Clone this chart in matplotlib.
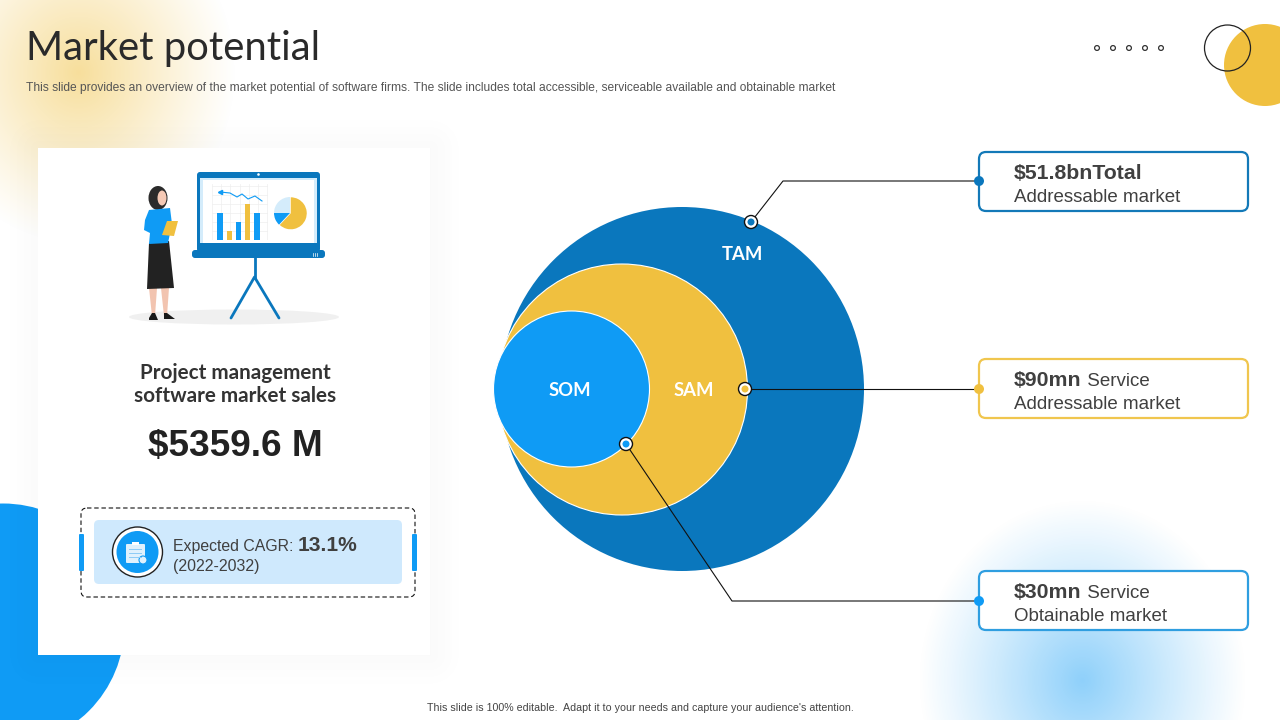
import numpy as np
import matplotlib
matplotlib.use('Agg')
import matplotlib.pyplot as plt
from matplotlib.patches import Circle, Ellipse, FancyBboxPatch, Polygon, Rectangle

W, H = 1280, 720

title = 'Market potential'
subtitle = ('This slide provides an overview of the market potential of software firms. '
            'The slide includes total accessible, serviceable available and obtainable market')
footer = "This slide is 100% editable.  Adapt it to your needs and capture your audience's attention."

circle_labels = ['TAM', 'SAM', 'SOM']
callout_bold = ['$51.8bnTotal', '$90mn', '$30mn']
callout_rest = ['', ' Service', ' Service']
callout_line2 = ['Addressable market', 'Addressable market', 'Obtainable market']

card_title = ['Project management', 'software market sales']
card_value = '$5359.6 M'
cagr_label = 'Expected CAGR: '
cagr_value = '13.1%'
cagr_years = '(2022-2032)'

# the little chart on the presentation board
board_bars = [27, 9, 18, 36, 27]
board_trend_x = [0, 1.08, 1.84, 2.38, 3.03, 3.78, 4.54]
board_trend = [48, 47, 43, 46, 41, 44, 39]
board_pie = [62, 13, 25]

DARK_BLUE = '#0a77bd'
BLUE = '#0f9bf5'
YELLOW = '#f0c03f'
TEXT = '#404040'
SANS = 'Liberation Sans'
GEO = 'Lato'


def px(size):
    return size * 72 / 100


def glow(ax, cx, cy, rx, ry, colour, top, power=1.2, z=0):
    yy, xx = np.mgrid[0:H, 0:W]
    d = np.sqrt(((xx - cx) / rx) ** 2 + ((yy - cy) / ry) ** 2)
    alpha = top * np.clip(1 - d, 0, 1) ** power
    img = np.zeros((H, W, 4))
    img[..., :3] = matplotlib.colors.to_rgb(colour)
    img[..., 3] = alpha
    ax.imshow(img, extent=(0, W, H, 0), aspect='auto', zorder=z, interpolation='bilinear')


def round_box(ax, x0, y0, x1, y1, r, **kw):
    p = FancyBboxPatch((x0, y0), x1 - x0, y1 - y0,
                       boxstyle='round,pad=0,rounding_size={}'.format(r), **kw)
    ax.add_patch(p)
    return p


def run_text(ax, x, y, parts):
    # several styles on one line, each piece starts where the last one ended
    renderer = ax.figure.canvas.get_renderer()
    for s, size, weight in parts:
        if not s:
            continue
        t = ax.text(x, y, s.replace('$', r'\$'), fontsize=px(size), fontweight=weight, family=SANS,
                    color=TEXT, va='baseline', ha='left', zorder=12)
        x = ax.transData.inverted().transform(t.get_window_extent(renderer).get_points())[1][0]


def marker(ax, x, y, colour):
    ax.add_patch(Circle((x, y), 6.5, fc='white', ec='#111111', lw=1, zorder=11))
    ax.add_patch(Circle((x, y), 3.5, fc=colour, ec='none', zorder=12))


fig = plt.figure(figsize=(W / 100, H / 100), dpi=100, facecolor='white')
ax = fig.add_axes([0, 0, 1, 1])

# background
glow(ax, 78, 72, 158, 172, '#f0c03f', 0.52, 1.1)
glow(ax, 1082, 680, 165, 182, '#0f9bf5', 0.47, 1.1)
ax.add_patch(Circle((3, 625), 121.5, fc=BLUE, ec='none', zorder=1))

# soft shadow of the card
yy, xx = np.mgrid[0:H, 0:W]
dx = np.maximum(np.maximum(38 - xx, xx - 430), 0)
dy = np.maximum(np.maximum(148 - yy, yy - 655), 0)
shadow = np.zeros((H, W, 4))
shadow[..., 3] = 0.02 * np.clip(1 - np.hypot(dx, dy) / 35, 0, 1)
ax.imshow(shadow, extent=(0, W, H, 0), aspect='auto', zorder=2)
ax.add_patch(Rectangle((38, 148), 392, 507, fc='white', ec='none', zorder=3))

ax.set_xlim(0, W)
ax.set_ylim(H, 0)
ax.axis('off')

# header
ax.text(26, 60, title, fontsize=px(40), family=GEO, color='#2a2a2a', zorder=12)
ax.text(26, 91, subtitle, fontsize=px(12.03), family=SANS, color='#555555', zorder=12)
ax.text(640, 711, footer, fontsize=px(10.63), family=SANS, color='#444444', ha='center', zorder=12)

# top right decoration
ax.add_patch(Circle((1265, 65), 41, fc=YELLOW, ec='none', zorder=4))
ax.add_patch(Circle((1227.5, 48), 23, fc='none', ec='#222222', lw=0.9, zorder=5))
for x in [1097, 1113, 1129, 1145, 1161]:
    ax.add_patch(Circle((x, 48), 2.4, fc='white', ec='#333333', lw=0.9, zorder=5))

# presenter illustration
ax.add_patch(Ellipse((234, 317), 210, 15, fc='#f0f0f0', ec='none', zorder=4))
ax.plot([254.5, 254.5], [258, 277], color=DARK_BLUE, lw=2, zorder=5)
ax.plot([231, 254.5, 279], [318, 277, 318], color=DARK_BLUE, lw=2, zorder=5, solid_capstyle='round')
round_box(ax, 197, 172, 320, 252, 3, fc=DARK_BLUE, ec='none', zorder=5)
ax.add_patch(Circle((258.5, 174.5), 1.3, fc='white', ec='none', zorder=6))
ax.add_patch(Rectangle((200, 178), 117, 65, fc='#d4ecfb', ec='none', zorder=6))
ax.add_patch(Rectangle((203, 180), 111, 63, fc='white', ec='none', zorder=6))
round_box(ax, 192, 250, 325, 258, 3, fc=DARK_BLUE, ec='none', zorder=6)
ax.plot([313, 313], [253, 256], color='white', lw=0.5, zorder=7)
ax.plot([315, 315], [253, 256], color='white', lw=0.5, zorder=7)
ax.plot([317, 317], [253, 256], color='white', lw=0.5, zorder=7)

ax.add_patch(Polygon([[149, 288], [157, 288], [155, 316], [152, 316]], fc='#f2c4b0', zorder=5))
ax.add_patch(Polygon([[161, 288], [169, 288], [167, 316], [164, 316]], fc='#f2c4b0', zorder=5))
ax.add_patch(Polygon([[152, 313], [155, 313], [158, 320], [149, 320], [149, 318]], fc='#1a1a1a', zorder=6))
ax.add_patch(Polygon([[164, 313], [167, 313], [175, 319], [164, 319]], fc='#1a1a1a', zorder=6))
ax.add_patch(Polygon([[149, 243], [169, 241], [174, 288], [147, 289]], fc='#222222', zorder=6))
ax.add_patch(Polygon([[149, 210], [170, 208], [172, 224], [168, 243], [149, 244], [150, 233], [144, 230], [145, 220]],
                     fc=BLUE, zorder=7))
ax.add_patch(Ellipse((158, 198), 19, 24, fc='#2b2b2b', ec='none', zorder=6))
ax.add_patch(Ellipse((162, 198), 9, 15, fc='#f5c9b5', ec='none', zorder=7))
ax.add_patch(Polygon([[167, 221], [178, 221], [174, 236], [162, 235]], fc=YELLOW, zorder=8))

# CAGR box
round_box(ax, 81, 508, 415, 597, 6, fc='white', ec='#111111', lw=0.8, ls=(0, (4, 2.5)), zorder=4)
round_box(ax, 94, 520, 402, 584, 5, fc='#cfe9fd', ec='none', zorder=5)
round_box(ax, 79, 534, 84, 571, 1, fc=BLUE, ec='none', zorder=6)
round_box(ax, 412, 534, 417, 571, 1, fc=BLUE, ec='none', zorder=6)
ax.add_patch(Circle((137.5, 552), 25, fc='white', ec='#222222', lw=1, zorder=6))
ax.add_patch(Circle((137.5, 552), 21, fc=BLUE, ec='none', zorder=7))
round_box(ax, 126, 544, 145, 563, 1, fc='#dff1fd', ec='none', zorder=8)
ax.add_patch(Rectangle((132, 542), 7, 3, fc='white', ec='none', zorder=9))
ax.add_patch(Circle((143, 560), 4, fc='#dff1fd', ec=BLUE, lw=0.8, zorder=9))
for y in [549, 553, 557]:
    ax.plot([129, 141], [y, y], color='#8ccbf6', lw=0.7, zorder=9)

# card text
for line, y in zip(card_title, [379, 402]):
    ax.text(235, y, line, fontsize=px(20.6), family=GEO, fontweight='bold', color='#333333', ha='center', zorder=12)
ax.text(235, 456, card_value.replace('$', r'\$'), fontsize=px(37), family=SANS, fontweight='bold',
        color='#222222', ha='center', zorder=12)
run_text(ax, 173, 551, [(cagr_label, 15.85, 'normal'), (cagr_value, 21, 'bold')])
run_text(ax, 173, 571, [(cagr_years, 16, 'normal')])

# nested circles
ax.add_patch(Circle((682, 389), 182, fc=DARK_BLUE, ec='none', zorder=4))
ax.add_patch(Circle((622, 389.5), 125.5, fc=YELLOW, ec='white', lw=0.8, zorder=5))
ax.add_patch(Circle((571.5, 389), 78, fc=BLUE, ec='white', lw=0.8, zorder=6))
for label, x, y in zip(circle_labels, [742, 694, 570], [255, 391, 391]):
    ax.text(x, y, label, fontsize=px(18.5), family=GEO, fontweight='bold', color='white',
            ha='center', va='center', zorder=12)

# connectors and callouts
lines_x = [[751, 783, 979], [745, 979], [626, 732, 979]]
lines_y = [[222, 181, 181], [389, 389], [444, 601, 601]]
line_colours = [DARK_BLUE, YELLOW, BLUE]
edge_colours = ['#1379b8', '#f0c64e', '#2f9ee0']
box_tops = [152, 359, 571]
for i in range(3):
    ax.plot(lines_x[i], lines_y[i], color='#111111', lw=0.8, zorder=10)
    marker(ax, lines_x[i][0], lines_y[i][0], line_colours[i])
    top = box_tops[i]
    round_box(ax, 979, top, 1248, top + 59, 7, fc='white', ec=edge_colours[i], lw=1.6, zorder=9)
    ax.add_patch(Circle((979, lines_y[i][-1]), 5, fc=line_colours[i], ec='none', zorder=11))
    run_text(ax, 1014, top + 27, [(callout_bold[i], 21.3, 'bold'), (callout_rest[i], 18.8, 'normal')])
    run_text(ax, 1014, top + 50, [(callout_line2[i], 18.8, 'normal')])

# chart on the board
axb = fig.add_axes([212 / W, 1 - 240 / H, 56 / W, 56 / H], facecolor='none', zorder=2)
axb.bar(range(len(board_bars)), board_bars, width=0.58,
        color=[BLUE, YELLOW, BLUE, YELLOW, BLUE], zorder=3)
axb.plot(board_trend_x, board_trend, color=BLUE, lw=0.8, zorder=4)
axb.plot(board_trend_x[0], board_trend[0], marker='<', ms=3, color=BLUE, zorder=4)
axb.set_xlim(-0.865, 5.19)
axb.set_ylim(0, 56)
axb.set_xticks(np.arange(-0.865, 5.19, 1))
axb.set_yticks(np.arange(0, 56, 9))
axb.grid(color='#eeeeee', lw=0.5)
axb.tick_params(length=0, labelbottom=False, labelleft=False)
for s in axb.spines.values():
    s.set_visible(False)

axp = fig.add_axes([270 / W, 1 - 233 / H, 40 / W, 40 / H], facecolor='none', zorder=2)
axp.pie(board_pie, colors=[YELLOW, BLUE, '#d4ecfb'], startangle=90, counterclock=False,
        explode=[0.05, 0, 0])

fig.savefig('out.png', dpi=100)
